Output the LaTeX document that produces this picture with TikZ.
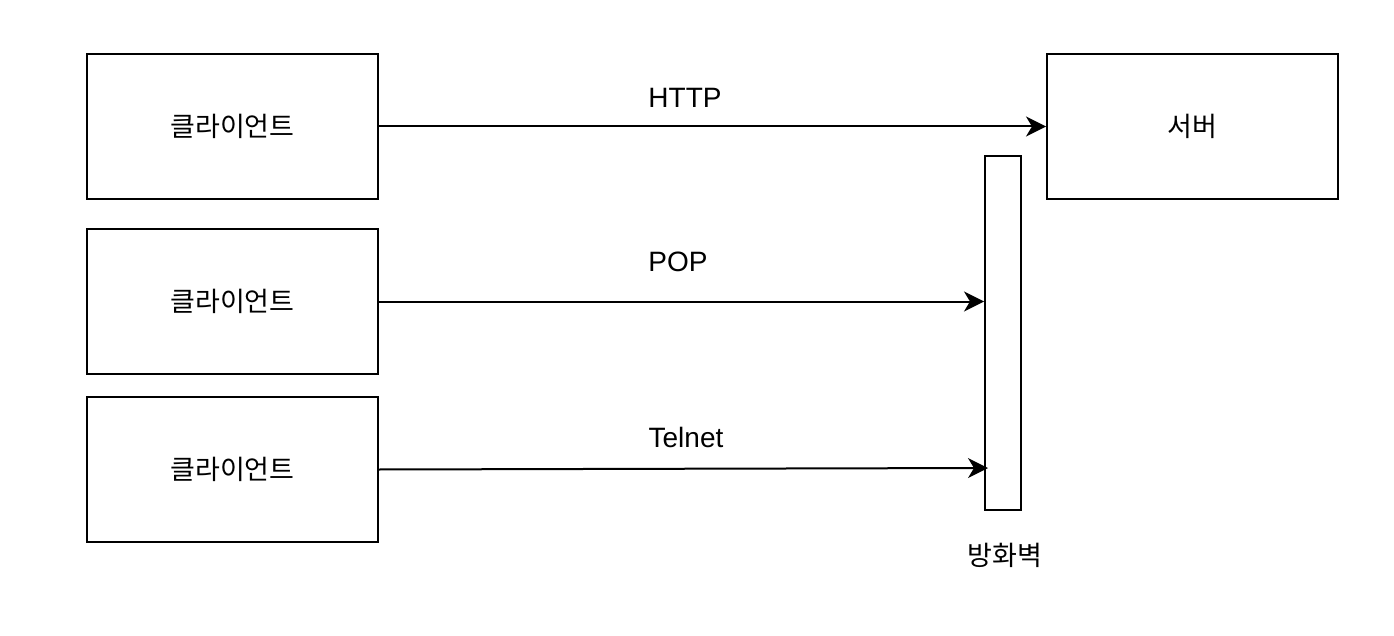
\documentclass[tikz,border=0pt]{standalone}
\usepackage{fontspec}
\setmainfont{Liberation Sans}
\newfontfamily\kr{Noto Sans CJK KR}
\usetikzlibrary{arrows.meta}
\begin{document}
\begin{tikzpicture}[x=1pt,y=-1pt,
  box/.style={draw,line width=2pt,minimum width=291pt,minimum height=145pt,inner sep=0pt,font=\kr\fontsize{27}{32}\selectfont},
  wall/.style={draw,line width=2pt,minimum width=36pt,minimum height=354pt,inner sep=0pt},
  lbl/.style={font=\fontsize{28}{33}\selectfont,inner sep=0pt},
  klbl/.style={font=\kr\fontsize{27}{32}\selectfont,inner sep=0pt},
  conn/.style={line width=2pt,-{Stealth[length=20pt,width=20pt,inset=6pt]}}]
\useasboundingbox (0,0) rectangle (1394,636);
\node[box] (c1) at (232.5,126.5) {클라이언트};
\node[box] (c2) at (232.5,301.5) {클라이언트};
\node[box] (c3) at (232.5,469.5) {클라이언트};
\node[box] (srv) at (1192.5,126.5) {서버};
\node[wall] (fw) at (1003,333) {};
\node[klbl] (fwl) at (1005,555) {방화벽};
\coordinate (tel) at (988,468);
\draw[conn] (c1.east) -- (srv.west);
\draw[conn] (c2.east) -- (c2.east -| fw.west);
\draw[conn] (c3.east) -- (tel);
\node[lbl] (l1) at (685,98) {HTTP};
\node[lbl] (l2) at (678,262) {POP};
\node[lbl] (l3) at (686,437) {Telnet};
\end{tikzpicture}
\end{document}
